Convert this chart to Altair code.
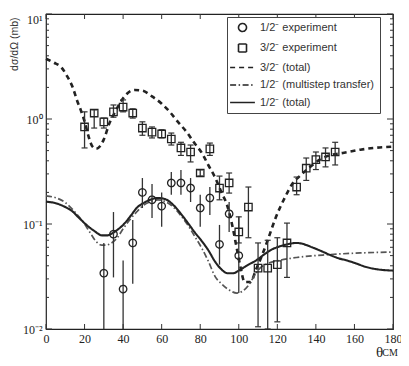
import altair as alt
import pandas as pd

# ---------------- data ----------------
series_names = ["1/2⁻ experiment", "3/2⁻ experiment", "3/2⁻ (total)",
                "1/2⁻ (multistep transfer)", "1/2⁻ (total)"]

half_theta = [30, 35, 40, 45, 50, 55, 60, 65, 70, 75, 80, 85, 90, 95, 100]
half_value = [0.034, 0.080, 0.024, 0.066, 0.20, 0.17, 0.148, 0.246, 0.246, 0.22,
              0.142, 0.177, 0.064, 0.125, 0.050]
half_lo = [0.010, 0.031, 0.010, 0.027, 0.142, 0.114, 0.094, 0.19, 0.19, 0.162,
           0.094, 0.122, 0.041, 0.084, 0.022]
half_hi = [0.066, 0.13, 0.045, 0.109, 0.274, 0.24, 0.20, 0.313, 0.327, 0.274,
           0.19, 0.225, 0.098, 0.162, 0.117]

three_theta = [20, 25, 30, 35, 40, 45, 50, 55, 60, 65, 70, 75, 80, 85, 90, 95,
               100, 105, 110, 115, 120, 125, 130, 135, 140, 145, 150]
three_value = [0.84, 1.14, 0.94, 1.17, 1.30, 1.14, 0.82, 0.75, 0.72, 0.645, 0.53,
               0.485, 0.306, 0.52, 0.22, 0.246, 0.084, 0.145, 0.038, 0.038, 0.041,
               0.066, 0.225, 0.34, 0.41, 0.435, 0.485]
three_lo = [0.53, 0.82, 0.82, 1.04, 1.17, 1.02, 0.70, 0.66, 0.66, 0.565, 0.45,
            0.39, 0.287, 0.45, 0.17, 0.197, 0.066, 0.074, 0.0105, 0.010, 0.0117,
            0.031, 0.19, 0.26, 0.33, 0.35, 0.365]
three_hi = [1.17, 1.22, 1.02, 1.36, 1.52, 1.25, 0.94, 0.84, 0.79, 0.735, 0.60,
            0.565, 0.327, 0.59, 0.286, 0.306, 0.117, 0.225, 0.066, 0.070, 0.074,
            0.102, 0.28, 0.425, 0.485, 0.53, 0.60]

c32_theta = [0, 4, 8, 11, 14, 16, 18, 20, 22, 24, 26, 28, 30, 33, 36, 39, 42, 46,
             50, 55, 60, 64, 68, 73, 77, 81, 84, 88, 91, 94, 97, 99, 101, 103, 106,
             109, 112, 115, 119, 124, 128, 132, 137, 142, 147, 154, 163, 170, 180]
c32_value = [3.75, 3.45, 3.1, 2.55, 1.97, 1.52, 1.22, 0.95, 0.69, 0.55, 0.52, 0.55,
             0.64, 0.92, 1.18, 1.48, 1.74, 1.89, 1.86, 1.64, 1.40, 1.18, 0.96, 0.75,
             0.59, 0.47, 0.37, 0.27, 0.20, 0.15, 0.09, 0.058, 0.038, 0.028, 0.028,
             0.037, 0.05, 0.07, 0.113, 0.18, 0.245, 0.29, 0.35, 0.41, 0.45, 0.475,
             0.51, 0.53, 0.545]

cms_theta = [0, 5, 10, 15, 20, 23, 26, 29, 31, 34, 37, 40, 43.5, 47, 50, 54, 58, 62,
             66, 70, 74, 77, 81, 84, 88, 91, 95, 99, 102, 105, 108, 111, 115, 121,
             130, 146, 163, 180]
cms_value = [0.185, 0.178, 0.16, 0.13, 0.10, 0.082, 0.068, 0.063, 0.063, 0.066,
             0.074, 0.09, 0.11, 0.13, 0.148, 0.163, 0.17, 0.163, 0.145, 0.12, 0.095,
             0.077, 0.058, 0.045, 0.031, 0.027, 0.0235, 0.022, 0.023, 0.026, 0.032,
             0.038, 0.042, 0.045, 0.048, 0.051, 0.053, 0.054]

c12_theta = [0, 5, 10, 13, 17, 21, 25, 29, 32, 35, 40, 44, 47, 51, 54, 58, 62, 66,
             70, 74, 77, 81, 84, 88, 91, 94, 97, 101, 105, 109, 113, 117, 121, 125,
             130, 134, 138, 143, 147, 152, 156, 161, 166, 172, 180]
c12_value = [0.163, 0.158, 0.145, 0.135, 0.115, 0.098, 0.086, 0.078, 0.078, 0.083,
             0.098, 0.12, 0.142, 0.16, 0.17, 0.177, 0.172, 0.152, 0.125, 0.10, 0.084,
             0.068, 0.057, 0.043, 0.037, 0.034, 0.034, 0.037, 0.041, 0.045, 0.051,
             0.057, 0.061, 0.064, 0.066, 0.064, 0.06, 0.055, 0.051, 0.047, 0.045,
             0.042, 0.039, 0.037, 0.036]

x_tick_values = [0, 20, 40, 60, 80, 100, 120, 140, 160, 180]
y_decades = [0.01, 0.1, 1, 10]
y_minor = [0.02, 0.03, 0.04, 0.05, 0.06, 0.07, 0.08, 0.09,
           0.2, 0.3, 0.4, 0.5, 0.6, 0.7, 0.8, 0.9,
           2, 3, 4, 5, 6, 7, 8, 9]

shape_range = ["circle", "square", "M-3.1,0H3.1", "M-3.1,0H3.1", "M-3.1,0H3.1"]
dash_range = [[1, 0], [1, 0], [5, 4], [6, 2.5, 1.5, 2.5], [1, 0]]

# ---------------- tables ----------------
pts_df = pd.DataFrame({
    "theta": half_theta + three_theta,
    "value": half_value + three_value,
    "lo": half_lo + three_lo,
    "hi": half_hi + three_hi,
    "series": [series_names[0]] * len(half_theta) + [series_names[1]] * len(three_theta),
})
caps_df = pd.DataFrame({"theta": three_theta + three_theta, "value": three_lo + three_hi})
curves_df = pd.DataFrame({
    "theta": c32_theta + cms_theta + c12_theta,
    "value": c32_value + cms_value + c12_value,
    "series": [series_names[2]] * len(c32_theta) + [series_names[3]] * len(cms_theta)
              + [series_names[4]] * len(c12_theta),
})
xt_df = pd.DataFrame({"theta": x_tick_values})
ymaj_df = pd.DataFrame({"value": y_decades})
ymin_df = pd.DataFrame({"value": y_minor})

W, H = 347, 315
INK = "#222222"
xs = alt.Scale(domain=[0, 180], nice=False, zero=False)
ys = alt.Scale(type="log", domain=[0.01, 10], nice=False)

x_axis = alt.Axis(values=x_tick_values, ticks=False, grid=False, domain=False,
                  labelFont="Liberation Serif", labelFontSize=12, labelColor=INK,
                  labelPadding=4, labelFlush=False,
                  title="θ", titleFont="Liberation Serif", titleFontSize=15,
                  titleFontWeight="normal", titleColor=INK, titleX=333, titleY=27,
                  titleAlign="center", titleBaseline="alphabetic")
y_axis = alt.Axis(values=y_decades, ticks=False, grid=False, domain=False,
                  labelExpr="datum.value < 0.05 ? '10⁻²' : datum.value < 0.5 ? '10⁻¹' : datum.value < 5 ? '10⁰' : '10¹'",
                  labelFont="Liberation Serif", labelFontSize=12, labelColor=INK,
                  labelPadding=4,
                  labelBaseline={"condition": {"test": "datum.value > 5", "value": "top"}, "value": "middle"},
                  title="dσ/dΩ (mb)", titleFont="Liberation Sans", titleFontSize=10.5,
                  titleFontWeight="normal", titleColor="#333333", titleAngle=270,
                  titleX=-32, titleY=3, titleAlign="right", titleBaseline="middle")

X = alt.X("theta:Q", scale=xs, axis=x_axis)
Y = alt.Y("value:Q", scale=ys, axis=y_axis)

legend = alt.Legend(title=None, orient="none", legendX=181, legendY=3, direction="vertical")
shape_scale = alt.Scale(domain=series_names, range=shape_range)
dash_scale = alt.Scale(domain=series_names, range=dash_range)

# ---------------- layers ----------------
tick_color = "#333333"
bottom_ticks = alt.Chart(xt_df).mark_rule(color=tick_color, strokeWidth=1).encode(
    x=X, y=alt.value(H), y2=alt.value(H - 5))
top_ticks = alt.Chart(xt_df).mark_rule(color=tick_color, strokeWidth=1).encode(
    x=X, y=alt.value(0), y2=alt.value(5))
left_major = alt.Chart(ymaj_df).mark_rule(color=tick_color, strokeWidth=1).encode(
    y=Y, x=alt.value(0), x2=alt.value(6))
right_major = alt.Chart(ymaj_df).mark_rule(color=tick_color, strokeWidth=1).encode(
    y=Y, x=alt.value(W), x2=alt.value(W - 6))
left_minor = alt.Chart(ymin_df).mark_rule(color=tick_color, strokeWidth=1).encode(
    y=Y, x=alt.value(0), x2=alt.value(3))
right_minor = alt.Chart(ymin_df).mark_rule(color=tick_color, strokeWidth=1).encode(
    y=Y, x=alt.value(W), x2=alt.value(W - 3))

lines = alt.Chart(curves_df).mark_line(interpolate="monotone", strokeCap="butt").encode(
    x=X, y=Y,
    strokeDash=alt.StrokeDash("series:N", scale=dash_scale, legend=legend),
    strokeWidth=alt.when(alt.datum.series == series_names[2]).then(alt.value(2.6))
        .when(alt.datum.series == series_names[3]).then(alt.value(1.7))
        .otherwise(alt.value(2.1)),
    color=alt.when(alt.datum.series == series_names[3]).then(alt.value("#555555"))
        .otherwise(alt.value(INK)),
)

bars = alt.Chart(pts_df).mark_rule(color="#333333", strokeWidth=1.3).encode(
    x=X,
    y=alt.Y("lo:Q", scale=ys, axis=y_axis),
    y2="hi:Q",
)
caps = alt.Chart(caps_df).mark_tick(orient="horizontal", size=6, thickness=1.2,
                                    color="#333333", opacity=1).encode(x=X, y=Y)

points = alt.Chart(pts_df).mark_point(filled=False, opacity=1, size=55, strokeWidth=1.3,
                                      color=INK).encode(
    x=X, y=Y,
    shape=alt.Shape("series:N", scale=shape_scale, legend=legend),
    strokeDash=alt.StrokeDash("series:N", scale=dash_scale, legend=legend),
)

sub_df = pd.DataFrame({"label": ["CM"]})
subscript = alt.Chart(sub_df).mark_text(font="Liberation Serif", fontSize=10, color=INK,
                                        align="center", baseline="alphabetic").encode(
    text="label:N", x=alt.value(344), y=alt.value(342))

chart = alt.layer(
    bottom_ticks, top_ticks, left_major, right_major, left_minor, right_minor,
    lines, bars, caps, points, subscript
).properties(
    width=W, height=H,
    autosize=alt.AutoSizeParams(type="none"),
    padding={"left": 38, "top": 6, "right": 8, "bottom": 29},
).configure_view(
    stroke="#222222", strokeWidth=1.2
).configure_legend(
    strokeColor="#444444", fillColor="white", padding=5,
    labelFont="Liberation Sans", labelFontSize=11, labelColor="#333333",
    symbolSize=64, symbolStrokeWidth=1.6, symbolOffset=5, labelOffset=12,
    rowPadding=5.5, symbolStrokeColor=INK, symbolFillColor="transparent",
)

chart.save("out.html", embed_options={"renderer": "svg", "actions": False})
